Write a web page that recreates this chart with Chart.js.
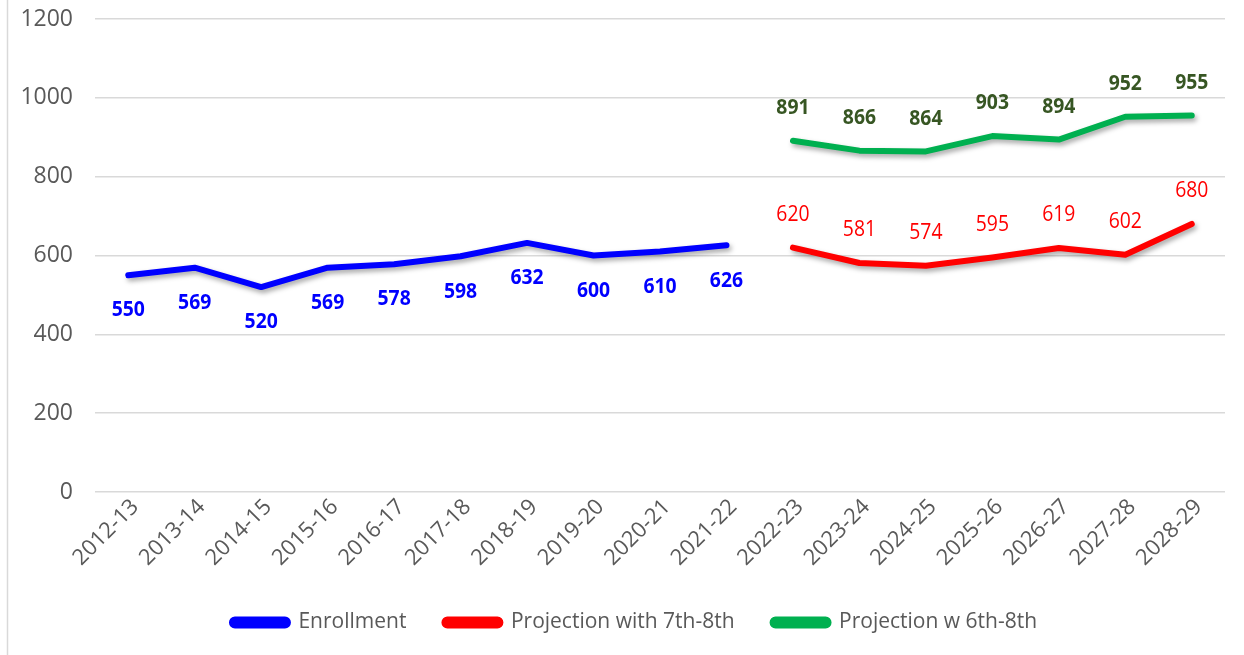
<!DOCTYPE html>
<html>
<head>
<meta charset="utf-8">
<script src="https://cdn.jsdelivr.net/npm/chart.js@4/dist/chart.umd.min.js"></script>
<style>
  html, body { margin: 0; padding: 0; background: #ffffff; }
  #wrap { width: 1244px; height: 655px; position: relative; }
</style>
</head>
<body>
<div id="wrap"><canvas id="chart" width="1244" height="655"></canvas></div>
<script>
// School years on the category axis
const categories = [
  '2012-13', '2013-14', '2014-15', '2015-16', '2016-17', '2017-18',
  '2018-19', '2019-20', '2020-21', '2021-22', '2022-23', '2023-24',
  '2024-25', '2025-26', '2026-27', '2027-28', '2028-29'
];

// Actual enrollment (historic years)
const enrollment = [550, 569, 520, 569, 578, 598, 632, 600, 610, 626,
  null, null, null, null, null, null, null];

// Projection including grades 7-8
const projection78 = [null, null, null, null, null, null, null, null, null, null,
  620, 581, 574, 595, 619, 602, 680];

// Projection including grades 6-8
const projection68 = [null, null, null, null, null, null, null, null, null, null,
  891, 866, 864, 903, 894, 952, 955];

const FONT = "'Open Sans', 'Noto Sans', sans-serif";
const GREY_TEXT = '#595959';

// Soft drop shadow under each line
const lineShadow = {
  id: 'lineShadow',
  beforeDatasetDraw(chart) {
    const ctx = chart.ctx;
    ctx.save();
    ctx.shadowColor = 'rgba(0,0,0,0.35)';
    ctx.shadowBlur = 5;
    ctx.shadowOffsetX = 2;
    ctx.shadowOffsetY = 3;
  },
  afterDatasetDraw(chart) {
    chart.ctx.restore();
  }
};

// Value labels next to each point (slightly condensed lettering)
const valueLabels = {
  id: 'valueLabels',
  afterDatasetsDraw(chart) {
    const ctx = chart.ctx;
    const squeeze = 0.88;
    chart.data.datasets.forEach((ds, i) => {
      const meta = chart.getDatasetMeta(i);
      meta.data.forEach((pt, j) => {
        const v = ds.data[j];
        if (v === null || v === undefined) return;
        ctx.save();
        ctx.translate(pt.x, pt.y + ds.labelOffset);
        ctx.scale(squeeze, 1);
        ctx.font = ds.labelFont;
        ctx.fillStyle = ds.labelColor;
        ctx.textAlign = 'center';
        ctx.textBaseline = 'middle';
        ctx.fillText(String(v), 0, 0);
        ctx.restore();
      });
    });
  }
};

// Center the legend row under the plot area rather than the whole canvas
const legendShift = {
  id: 'legendShift',
  afterLayout(chart) {
    const lg = chart.legend;
    if (!lg) return;
    const dx = 22;
    lg.left += dx;
    lg.right += dx;
    if (lg.legendHitBoxes) lg.legendHitBoxes.forEach(b => { b.left += dx; });
  }
};

// Thin frame line on the left edge
const frame = {
  id: 'frame',
  afterDraw(chart) {
    const ctx = chart.ctx;
    ctx.save();
    ctx.strokeStyle = '#d9d9d9';
    ctx.lineWidth = 1.5;
    ctx.beginPath();
    ctx.moveTo(7.5, 0);
    ctx.lineTo(7.5, chart.height);
    ctx.stroke();
    ctx.restore();
  }
};

const lineStyle = {
  borderWidth: 6,
  pointRadius: 0,
  pointHoverRadius: 0,
  tension: 0,
  borderCapStyle: 'round',
  borderJoinStyle: 'round',
  spanGaps: false
};

new Chart(document.getElementById('chart'), {
  type: 'line',
  data: {
    labels: categories,
    datasets: [
      Object.assign({
        label: 'Enrollment',
        data: enrollment,
        borderColor: '#0000ff',
        backgroundColor: '#0000ff',
        labelColor: '#0000ff',
        labelFont: 'bold 22px ' + FONT,
        labelOffset: 35
      }, lineStyle),
      Object.assign({
        label: 'Projection with 7th-8th',
        data: projection78,
        borderColor: '#ff0000',
        backgroundColor: '#ff0000',
        labelColor: '#ff0000',
        labelFont: '22px ' + FONT,
        labelOffset: -33
      }, lineStyle),
      Object.assign({
        label: 'Projection w 6th-8th',
        data: projection68,
        borderColor: '#00b050',
        backgroundColor: '#00b050',
        labelColor: '#375623',
        labelFont: 'bold 22px ' + FONT,
        labelOffset: -33
      }, lineStyle)
    ]
  },
  options: {
    responsive: false,
    animation: false,
    layout: { padding: { top: 19, right: 19, bottom: 12, left: 0 } },
    plugins: {
      tooltip: { enabled: false },
      legend: {
        position: 'bottom',
        labels: {
          font: { family: FONT, size: 21 },
          color: GREY_TEXT,
          boxWidth: 56,
          boxHeight: 6,
          useBorderRadius: true,
          borderRadius: 3,
          padding: 38
        }
      }
    },
    scales: {
      x: {
        offset: true,
        grid: { display: false, drawTicks: false },
        border: { display: false },
        ticks: {
          font: { family: FONT, size: 22 },
          color: GREY_TEXT,
          minRotation: 45,
          maxRotation: 45,
          padding: 2,
          labelOffset: 7,
          autoSkip: false
        },
        afterFit(scale) { scale.height = 82; }
      },
      y: {
        min: 0,
        max: 1200,
        ticks: {
          stepSize: 200,
          font: { family: FONT, size: 23 },
          color: GREY_TEXT,
          padding: 22,
          callback: (v) => String(v)
        },
        grid: { color: '#d9d9d9', lineWidth: 1.5, drawTicks: false },
        border: { display: false },
        afterFit(scale) { scale.width = 95; scale.paddingTop = 0; }
      }
    }
  },
  plugins: [lineShadow, valueLabels, legendShift, frame]
});
</script>
</body>
</html>
